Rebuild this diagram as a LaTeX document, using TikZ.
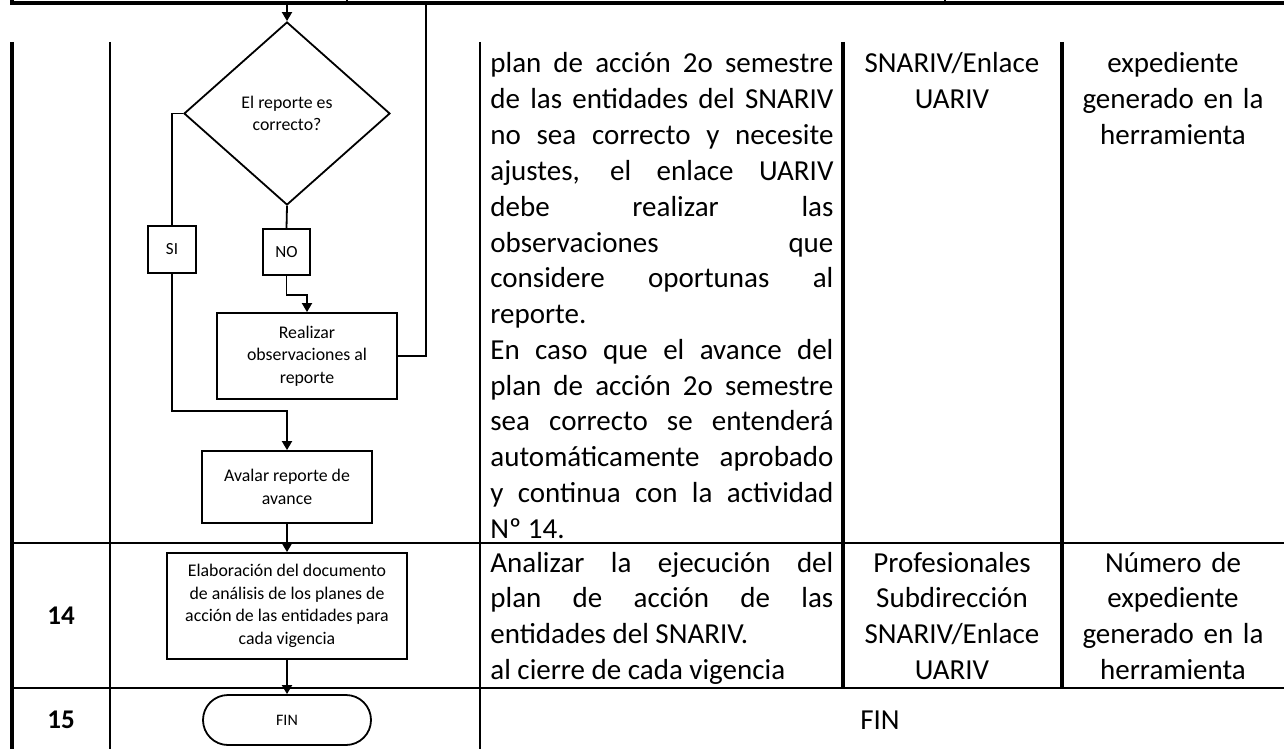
\documentclass[tikz,border=0pt]{standalone}
\usepackage{fontspec}
\setmainfont{Carlito}
\usetikzlibrary{shapes.geometric,shapes.misc,arrows.meta}
\setlength{\parindent}{0pt}
\hyphenpenalty=10000
\tolerance=10000

\tikzset{
  flow/.style={line width=0.9pt},
  arr/.style={flow,-{Triangle[length=4.5pt,width=5pt]}},
  proc/.style={draw,flow,align=center,inner sep=0pt,font=\fontsize{8.9}{11.3}\selectfont},
  tag/.style={proc,font=\fontsize{8.5}{10}\selectfont},
  ask/.style={proc,diamond,minimum width=103pt,minimum height=91.5pt},
  ends/.style={proc,rounded rectangle,minimum width=84pt,minimum height=25pt,font=\fontsize{8}{9}\selectfont},
  rule/.style={line width=1.1pt},
  heavy/.style={line width=1.6pt},
  cell/.style={inner sep=0pt,font=\fontsize{14.5}{17.9}\selectfont},
  body/.style={cell,anchor=base west,text width=171.5pt,align=justify},
  mid/.style={cell,anchor=base,text width=105pt,align=center},
  num/.style={cell,font=\fontsize{13.5}{16}\selectfont\bfseries}
}

\begin{document}
\begin{tikzpicture}[x=0.5pt,y=-0.5pt]
\useasboundingbox (0,0) rectangle (1284,749);

% table rules
\draw[heavy] (10,3) -- (1284,3);
\draw[heavy] (12,0) -- (12,3);
\draw[rule] (347,0) -- (347,3);
\draw[rule] (945,0) -- (945,3);
\draw[heavy] (12,42) -- (12,749);
\draw[rule] (110,42) -- (110,749);
\draw[rule] (480,42) -- (480,749);
\draw[heavy] (843,42) -- (843,688);
\draw[heavy] (1062,42) -- (1062,688);
\draw[rule] (12,543) -- (1284,543);
\draw[rule] (12,688) -- (1284,688);

% table text
\node[body] (desc13) at (490,73) {plan de acción 2o semestre\linebreak
de las entidades del SNARIV\linebreak
no sea correcto y necesite\linebreak
ajustes, el enlace UARIV\linebreak
debe realizar las\linebreak
observaciones que\linebreak
considere oportunas al\linebreak
reporte.\par
En caso que el avance del\linebreak
plan de acción 2o semestre\linebreak
sea correcto se entenderá\linebreak
automáticamente aprobado\linebreak
y continua con la actividad\linebreak
Nº 14.};
\node[mid] (resp13) at (952,73) {SNARIV/Enlace\\UARIV};
\node[mid] (reg13) at (1173,73) {expediente\\generado en la\\herramienta};

\node[num] (n14) at (61,616) {14};
\node[body] (desc14) at (490,572) {Analizar la ejecución del\linebreak
plan de acción de las\linebreak
entidades del SNARIV.\par
al cierre de cada vigencia};
\node[mid] (resp14) at (952,572) {Profesionales\\Subdirección\\SNARIV/Enlace\\UARIV};
\node[mid] (reg14) at (1173,572) {Número de\\expediente\\generado en la\\herramienta};

\node[num] (n15) at (61,720) {15};
\node[cell,anchor=base] (desc15) at (880,729) {FIN};

% flow
\coordinate (top) at (287,5);
\coordinate (back) at (426,5);
\node[ask] (q) at (287,113.5) {El reporte es\\correcto?};
\node[tag,minimum width=24pt,minimum height=23.5pt] (si) at (172,249.5) {SI};
\node[tag,minimum width=23.5pt,minimum height=23pt] (no) at (286.5,252) {NO};
\node[proc,minimum width=90pt,minimum height=43pt] (obs) at (307,356) {Realizar\\observaciones al\\reporte};
\node[proc,minimum width=85pt,minimum height=36pt] (aval) at (287,487) {Avalar reporte de\\avance};
\node[proc,minimum width=120pt,minimum height=53pt] (elab) at (287,606) {Elaboración del documento\\de análisis de los planes de\\acción de las entidades para\\cada vigencia};
\node[ends] (fin) at (287,720) {FIN};

\draw[arr] (top) -- (q.north);
\draw[flow] (q.west) -| (si.north);
\draw[flow] (q.south) -- (no.north);
\draw[arr] (no.south) -- ++(0,19) -| (obs.north);
\draw[arr] (si.south) -- ++(0,137) -| (aval.north);
\draw[flow] (obs.east) -| (back);
\draw[arr] (aval) -- (elab);
\draw[arr] (elab) -- (fin);

\end{tikzpicture}
\end{document}
